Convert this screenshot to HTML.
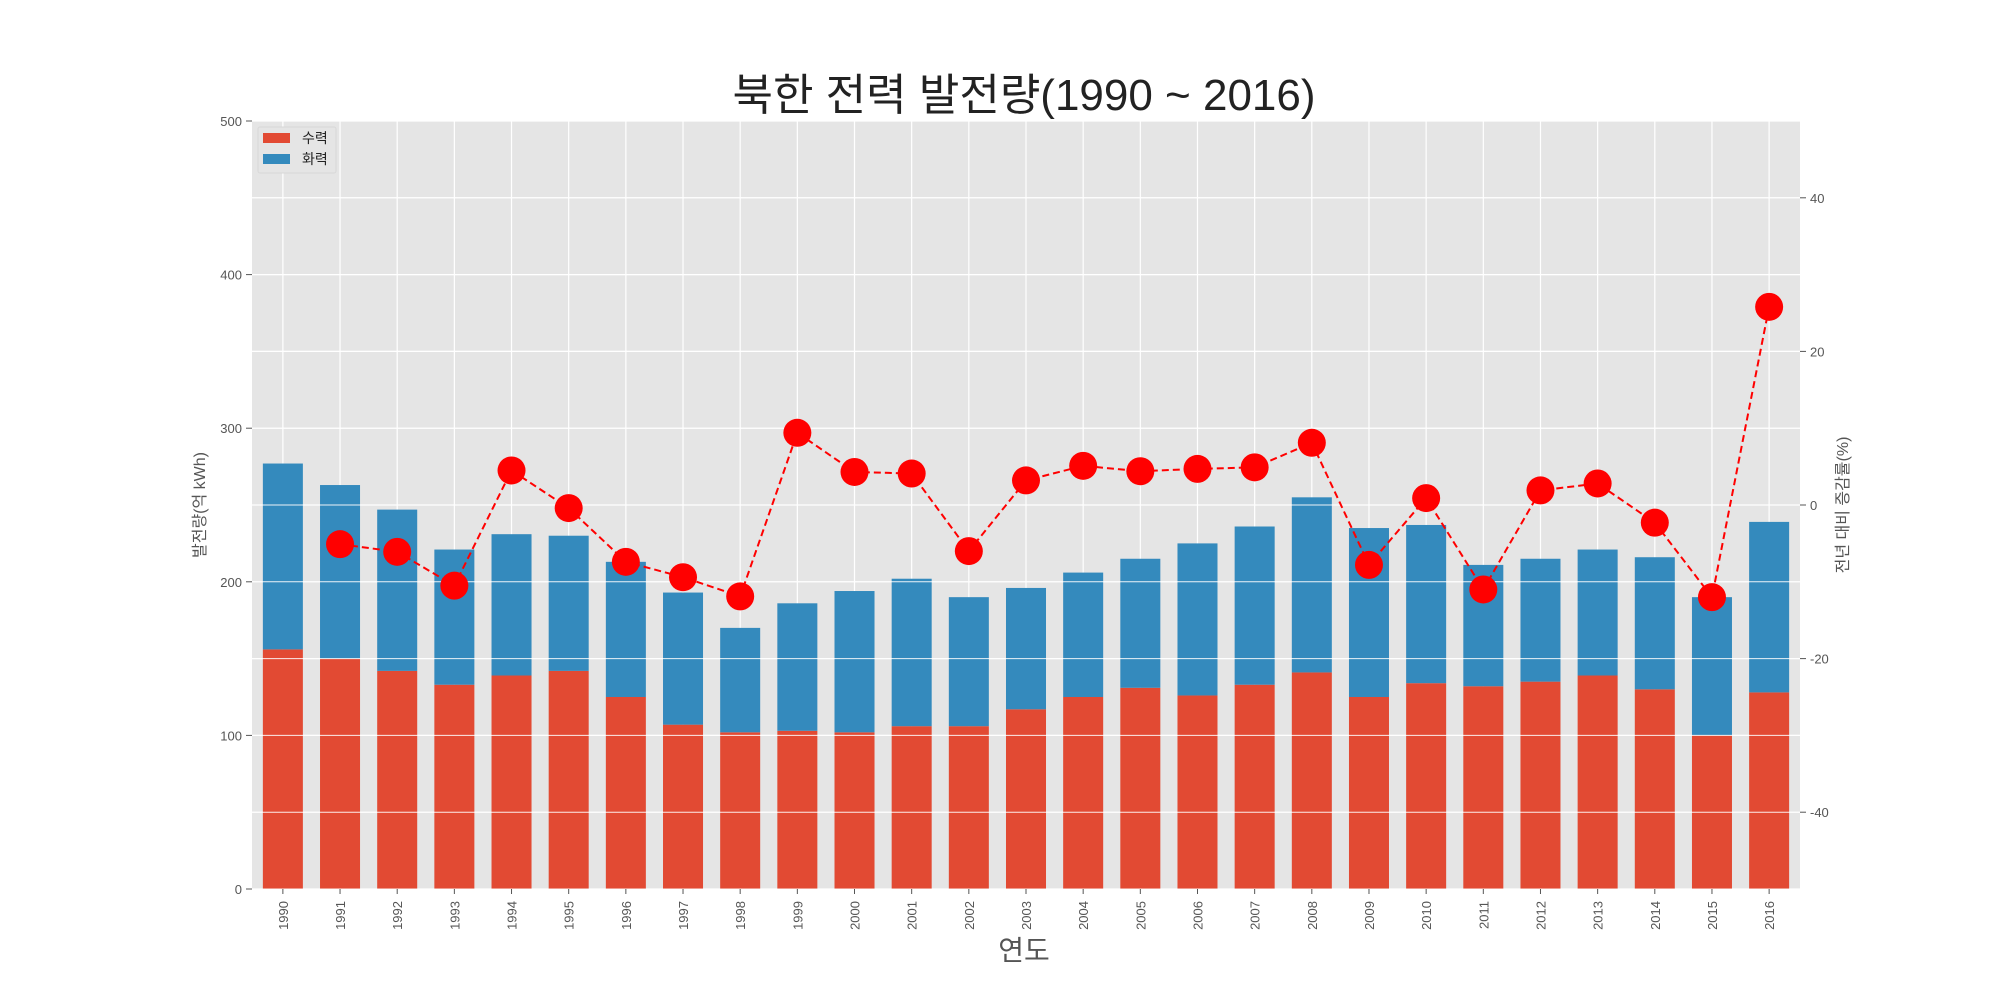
<!DOCTYPE html>
<html><head><meta charset="utf-8">
<style>
body{margin:0;background:#fff;}
svg{display:block;font-family:"Liberation Sans","Noto Sans CJK KR",sans-serif;}
</style></head>
<body>
<svg id="chart" width="2000" height="1000" viewBox="0 0 2000 1000">
<rect x="252" y="121" width="1548" height="768" fill="#e5e5e5"/>
<g id="grid"></g>
<g id="bars"></g>
<g id="line"></g>
<g id="axes"></g>
<text x="1024" y="110" font-size="44" text-anchor="middle" fill="#222">북한 전력 발전량(1990 ~ 2016)</text>
<text x="1024" y="960" font-size="28" text-anchor="middle" fill="#555">연도</text>
<text transform="translate(205,505) rotate(-90)" font-size="16" text-anchor="middle" fill="#555">발전량(억 kWh)</text>
<text transform="translate(1848,505) rotate(-90)" font-size="16" text-anchor="middle" fill="#555">전년 대비 증감률(%)</text>
<g>
<rect x="258" y="127" width="78" height="46" fill="#e5e5e5" stroke="#d8d8d8" rx="2"/>
<rect x="263" y="133" width="27" height="10" fill="#E24A33"/>
<text x="302" y="143" font-size="14" fill="#222">수력</text>
<rect x="263" y="154" width="27" height="10" fill="#348ABD"/>
<text x="302" y="164" font-size="14" fill="#222">화력</text>
</g>
</svg>
<script>
const years=[1990,1991,1992,1993,1994,1995,1996,1997,1998,1999,2000,2001,2002,2003,2004,2005,2006,2007,2008,2009,2010,2011,2012,2013,2014,2015,2016];
const hydro=[156,150,142,133,139,142,125,107,102,103,102,106,106,117,125,131,126,133,141,125,134,132,135,139,130,100,128];
const thermal=[121,113,105,88,92,88,88,86,68,83,92,96,84,79,81,84,99,103,114,110,103,79,80,82,86,90,111];
const growth=[null,-5.1,-6.1,-10.5,4.5,-0.4,-7.4,-9.4,-11.9,9.4,4.3,4.1,-6.0,3.2,5.1,4.4,4.7,4.9,8.1,-7.8,0.9,-11.0,1.9,2.8,-2.3,-12.0,25.8];
const yTicks=[0,100,200,300,400,500];
const y2Ticks=[-40,-20,0,20,40];

const NS="http://www.w3.org/2000/svg";
const L=252,R=1800,T=121,B=889;
const x=i=>L+(i+0.54)*(R-L)/27.08;
const y=v=>B-(v/500)*(B-T);
const y2=v=>B-((v+50)/100)*(B-T);
const bw=0.7*(R-L)/27.08;
function mk(tag,attrs,parent){const e=document.createElementNS(NS,tag);for(const k in attrs)e.setAttribute(k,attrs[k]);parent.appendChild(e);return e;}
const grid=document.getElementById('grid'),bars=document.getElementById('bars'),line=document.getElementById('line'),axes=document.getElementById('axes');
for(let v=0;v<=500;v+=50){const g=mk('line',{x1:L,x2:R,y1:y(v),y2:y(v),stroke:'#fff','stroke-width':1.2},grid);

}
years.forEach((yr,i)=>{const g=mk('line',{x1:x(i),x2:x(i),y1:T,y2:B,stroke:'#fff','stroke-width':1.2},grid);

});
years.forEach((yr,i)=>{
const r1=mk('rect',{x:x(i)-bw/2,y:y(hydro[i]),width:bw,height:y(0)-y(hydro[i]),fill:'#E24A33'},bars);


const r2=mk('rect',{x:x(i)-bw/2,y:y(hydro[i]+thermal[i]),width:bw,height:y(hydro[i])-y(hydro[i]+thermal[i]),fill:'#348ABD'},bars);


const tk=mk('line',{x1:x(i),x2:x(i),y1:B,y2:B+5,stroke:'#555'},axes);


const t=mk('text',{transform:`translate(${x(i)+5},${B+12}) rotate(-90)`,'font-size':13,'text-anchor':'end',fill:'#555'},axes);
t.textContent=yr;


});
for(let v=0;v<=500;v+=50){const g=mk('line',{x1:L,x2:R,y1:y(v),y2:y(v),stroke:'#fff','stroke-width':1,opacity:0.9},bars);

}
let pts=[];growth.forEach((g,i)=>{if(g!==null)pts.push(x(i)+','+y2(g));});
const pl=mk('polyline',{points:pts.join(' '),fill:'none',stroke:'#ff0000','stroke-width':2,'stroke-dasharray':'7,4'},line);


growth.forEach((g,i)=>{if(g===null)return;const c=mk('circle',{cx:x(i),cy:y2(g),r:14,fill:'#ff0000'},line);

});
yTicks.forEach(v=>{const tk=mk('line',{x1:L-6,x2:L,y1:y(v),y2:y(v),stroke:'#555'},axes);


const t=mk('text',{x:L-10,y:y(v)+5,'font-size':13,'text-anchor':'end',fill:'#555'},axes);t.textContent=v;

});
y2Ticks.forEach(v=>{const tk=mk('line',{x1:R,x2:R+6,y1:y2(v),y2:y2(v),stroke:'#555'},axes);


const t=mk('text',{x:R+10,y:y2(v)+5,'font-size':13,fill:'#555'},axes);t.textContent=v;

});
</script>
</body></html>
